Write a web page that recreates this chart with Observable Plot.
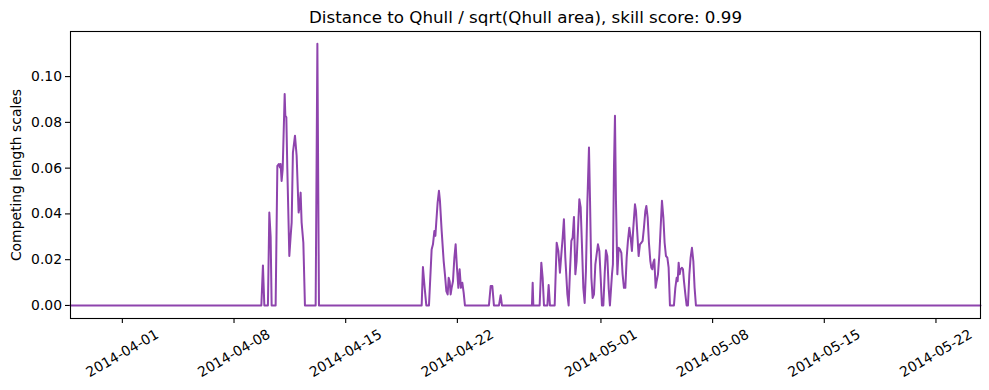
<!DOCTYPE html>
<html><head><meta charset="utf-8">
<script src="https://cdn.jsdelivr.net/npm/d3@7"></script>
<script src="https://cdn.jsdelivr.net/npm/@observablehq/plot@0.6"></script>
<style>body{margin:0;background:#fff} svg{font-family:"DejaVu Sans",sans-serif}</style>
</head><body><div id="chart"></div>
<script>
const title = "Distance to Qhull / sqrt(Qhull area), skill score: 0.99";
const yLabel = "Competing length scales";
const startDate = "2014-04-01T00:00:00Z";
// hours since 2014-04-01 00:00 UTC
const hours = [
  -78, 209.1, 211.5, 213.6, 219.0, 221.1, 223.1, 224.6, 230.6, 233.2,
  235.6, 237.1, 238.1, 239.6, 241.2, 243.1, 244.2, 245.2, 246.7, 248.2,
  251.2, 253.2, 254.7, 256.6, 259.7, 262.2, 265.2, 266.7, 268.2, 269.7,
  272.3, 274.7, 290.8, 293.4, 295.8, 450.3, 452.2, 454.8, 457.3, 461.3,
  465.3, 467.3, 469.4, 470.9, 472.4, 474.3, 476.3, 477.8, 480.4, 483.4,
  485.3, 487.4, 489.4, 490.9, 492.4, 493.9, 495.4, 497.4, 499.5, 501.4,
  503.4, 505.5, 507.4, 509.4, 511.5, 513.5, 515.4, 551.5, 554.1, 556.6,
  559.0, 566.6, 569.1, 571.1, 616.2, 617.3, 618.3, 627.8, 630.3, 632.3,
  634.3, 639.4, 641.3, 643.3, 650.4, 653.4, 655.9, 658.3, 660.4, 662.4,
  664.3, 666.4, 669.5, 671.4, 673.4, 675.5, 677.4, 679.4, 681.5, 683.4,
  685.4, 687.5, 689.5, 691.4, 693.5, 695.5, 697.4, 699.5, 702.0, 703.5,
  705.6, 707.5, 709.5, 711.6, 713.5, 715.5, 717.6, 719.6, 721.5, 723.6,
  725.6, 727.5, 729.6, 731.6, 733.5, 736.6, 738.0, 739.6, 741.1, 742.6,
  744.7, 746.7, 748.6, 750.7, 752.6, 754.6, 756.7, 758.7, 760.6, 762.7,
  764.7, 766.6, 768.7, 771.2, 772.7, 774.8, 776.7, 778.7, 780.8, 782.7,
  784.7, 786.8, 788.3, 790.3, 792.2, 794.3, 795.8, 797.3, 798.8, 800.3,
  802.3, 803.8, 805.8, 807.9, 809.8, 811.8, 813.9, 815.8, 817.8, 819.9,
  821.8, 823.8, 829.8, 831.9, 833.9, 835.4, 836.9, 838.4, 839.9, 841.9,
  843.4, 844.9, 847.0, 848.9, 850.9, 853.0, 854.9, 856.9, 859.0, 860.9,
  862.9, 1291
];
const values = [
  0, 0, 0.0175, 0, 0, 0.0406, 0.030, 0, 0, 0.061,
  0.0618, 0.0603, 0.0618, 0.0544, 0.0596, 0.080, 0.0924, 0.0829, 0.0822, 0.0596,
  0.0216, 0.0304, 0.0362, 0.0668, 0.0742, 0.0654, 0.0406, 0.0435, 0.0493, 0.0362,
  0.0274, 0, 0, 0.1143, 0, 0, 0.0168, 0.0077, 0, 0,
  0.0245, 0.0267, 0.0325, 0.0304, 0.0369, 0.0449, 0.0501, 0.0457, 0.0325, 0.0194,
  0.0136, 0.0063, 0.0048, 0.0121, 0.0106, 0.0048, 0.0077, 0.0106, 0.0209, 0.0267,
  0.0165, 0.0077, 0.0158, 0.0077, 0.0099, 0.0055, 0, 0, 0.0085, 0.0085,
  0, 0, 0.0045, 0, 0, 0.0099, 0, 0, 0.0187, 0.0121,
  0, 0, 0.0089, 0, 0, 0.0274, 0.0238, 0.0143, 0.0223, 0.0296,
  0.0377, 0.0209, 0.0048, 0, 0.0150, 0.0282, 0.0296, 0.0387, 0.0136, 0.0194,
  0.0325, 0.0464, 0.0428, 0.0267, 0.0077, 0.0011, 0.0150, 0.0442, 0.0690, 0.0471,
  0.0121, 0.0033, 0.0048, 0.0180, 0.0223, 0.0267, 0.0238, 0.0121, 0, 0,
  0.0136, 0.0241, 0.0215, 0.0077, 0, 0.0136, 0.0180, 0.0603, 0.0829, 0.0457,
  0.0136, 0.0252, 0.0245, 0.0230, 0.0136, 0.0077, 0.0077, 0.0209, 0.0282, 0.0340,
  0.0296, 0.0238, 0.0340, 0.0442, 0.0413, 0.0311, 0.0216, 0.0267, 0.0274, 0.0282,
  0.0340, 0.0413, 0.0435, 0.0384, 0.0274, 0.0194, 0.0165, 0.0158, 0.0187, 0.0201,
  0.0077, 0.0106, 0.0136, 0.0223, 0.0340, 0.0457, 0.0384, 0.0274, 0.0216, 0.0209,
  0.0165, 0, 0, 0.0077, 0.0121, 0.0106, 0.0187, 0.0136, 0.0158, 0.0165,
  0.0158, 0.0106, 0.0048, 0, 0, 0.0136, 0.0209, 0.0252, 0.0194, 0.0077,
  0, 0
];
const xTickLabels = ["2014-04-01","2014-04-08","2014-04-15","2014-04-22","2014-05-01","2014-05-08","2014-05-15","2014-05-22"];
const yTicks = [0, 0.02, 0.04, 0.06, 0.08, 0.10];
const yDomain = [-0.0057, 0.1197];

const t0 = new Date(startDate).getTime();
const n = Math.min(hours.length, values.length);
const data = hours.slice(0, n).map((h, i) => ({date: new Date(t0 + h * 3600e3), value: values[i]}));
const xTicks = xTickLabels.map(s => new Date(s + "T00:00:00Z"));
const color = "#8E44AD";
const fs = 13.9;

const chart = Plot.plot({
  width: 989, height: 390,
  marginLeft: 70, marginRight: 9, marginTop: 31, marginBottom: 72,
  style: {fontFamily: "DejaVu Sans", fontSize: fs + "px", color: "black", background: "white", overflow: "visible"},
  x: {type: "utc", domain: d3.extent(data, d => d.date)},
  y: {domain: yDomain},
  marks: [
    Plot.axisY(yTicks, {tickFormat: d3.format(".2f"), tickSize: 5, tickPadding: 3.5, label: null, fontSize: fs, strokeWidth: 1.1}),
    Plot.axisX(xTicks, {tickSize: 5, tickFormat: () => "", label: null, strokeWidth: 1.1}),
    Plot.text(xTicks, {x: d => d, text: (d, i) => xTickLabels[i], frameAnchor: "bottom", dy: 35, rotate: -30, textAnchor: "middle", lineAnchor: "middle", fontSize: fs, fill: "black"}),
    Plot.text([yLabel], {frameAnchor: "left", dx: -54, rotate: -90, textAnchor: "middle", lineAnchor: "middle", fontSize: fs, fill: "black"}),
    Plot.text([title], {frameAnchor: "top", dy: -14, textAnchor: "middle", lineAnchor: "middle", fontSize: 16.7, fill: "black"}),
    Plot.line(data, {x: "date", y: "value", stroke: color, strokeWidth: 2, strokeLinejoin: "round"}),
    Plot.frame({stroke: "black", strokeWidth: 1.1})
  ]
});
document.getElementById("chart").appendChild(chart);
</script></body></html>
